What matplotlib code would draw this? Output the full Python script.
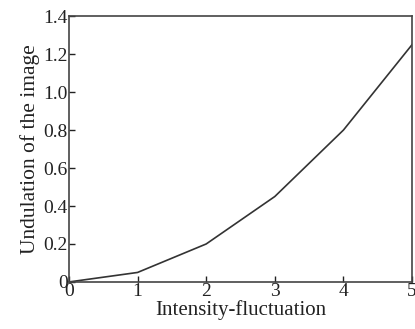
import numpy as np
import matplotlib.pyplot as plt

# values
intensity = [0, 1, 2, 3, 4, 5]
undulation = [0.0, 0.05, 0.2, 0.45, 0.8, 1.25]

x_ticks = [0, 1, 2, 3, 4, 5]
y_ticks = [0, 0.2, 0.4, 0.6, 0.8, 1.0, 1.2, 1.4]
y_labels = ["0", "0.2", "0.4", "0.6", "0.8", "1.0", "1.2", "1.4"]

plt.rcParams["font.family"] = ["Liberation Serif", "DejaVu Serif"]

fig = plt.figure(figsize=(4.15, 3.29), dpi=100)
ax = fig.add_axes([0.166, 0.143, 0.827, 0.808])

ax.plot(intensity, undulation, color="#333333", linewidth=1.2)

ax.set_xlim(0, 5)
ax.set_ylim(0, 1.4)
ax.set_xticks(x_ticks)
ax.set_yticks(y_ticks)
ax.set_yticklabels(y_labels)
ax.tick_params(direction="in", length=4, width=1, labelsize=14, pad=1, colors="#222222")

for s in ax.spines.values():
    s.set_linewidth(1.2)
    s.set_color("#444444")

ax.set_xlabel("Intensity-fluctuation", fontsize=15, labelpad=0, color="#222222")
ax.set_ylabel("Undulation of the image", fontsize=15.5, labelpad=2, color="#222222")

fig.savefig("out.png", dpi=100)
